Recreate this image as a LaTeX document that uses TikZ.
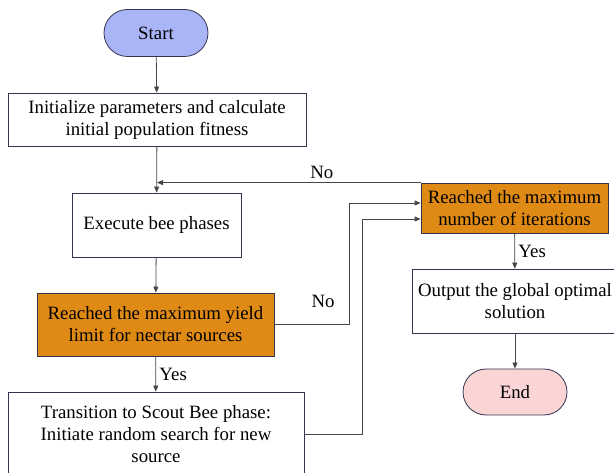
\documentclass[tikz,border=0pt]{standalone}
\usepackage{fontspec}
\setmainfont{Liberation Serif}
\usetikzlibrary{arrows.meta,shapes.misc}

\definecolor{edgecol}{RGB}{52,52,80}
\definecolor{linecol}{RGB}{70,70,70}
\definecolor{startfill}{RGB}{170,181,247}
\definecolor{stopfill}{RGB}{251,213,213}
\definecolor{orangefill}{RGB}{224,138,22}

\begin{document}
\begin{tikzpicture}[x=1pt,y=-1pt,
	font=\fontsize{18.8}{22}\selectfont,
	box/.style={draw=edgecol,line width=0.8pt,fill=white,align=center,inner sep=0pt},
	decision/.style={box,fill=orangefill},
	terminal/.style={draw=edgecol,line width=0.8pt,rounded rectangle,inner sep=0pt,minimum width=104pt,minimum height=47pt},
	flow/.style={draw=linecol,line width=0.8pt,-{Triangle[width=5pt,length=6pt]}}]
	\useasboundingbox (0,0) rectangle (614,473);

	\node[terminal,fill=startfill] (start) at (156,33) {Start};
	\node[box,minimum width=298pt,minimum height=53pt] (init) at (157,119.5) {Initialize parameters and calculate\\initial population fitness};
	\node[box,minimum width=169pt,minimum height=64pt] (exec) at (156.5,225) {Execute bee phases};
	\node[decision,minimum width=237pt,minimum height=63pt] (yield) at (155.5,324.5) {Reached the maximum yield\\limit for nectar sources};
	\node[box,minimum width=296pt,minimum height=84pt] (scout) at (156,434) {Transition to Scout Bee phase:\\Initiate random search for new\\source};
	\node[decision,minimum width=187pt,minimum height=50pt] (iter) at (514.5,208) {Reached the maximum\\number of iterations};
	\node[box,minimum width=206pt,minimum height=64pt] (output) at (515,301) {Output the global optimal\\solution};
	\node[terminal,fill=stopfill,minimum height=46pt] (stop) at (515,392) {End};

	\draw[flow] (start) -- (init);
	\draw[flow] (init) -- (exec);
	\draw[flow] (exec) -- (yield);
	\draw[flow] (yield) -- node[right] {Yes} (scout);
	\draw[flow] (yield.east) -- ++(75,0) node[pos=0.65,above=13pt] {No} |- ([yshift=5pt]iter.west);
	\draw[flow] (scout.east) -- ++(58,0) |- ([yshift=-11pt]iter.west);
	\draw[flow] (iter.north west) -- node[above,pos=0.375] {No} (init.south |- iter.north);
	\draw[flow] (iter) -- node[right] {Yes} (output);
	\draw[flow] (output) -- (stop);
\end{tikzpicture}
\end{document}
